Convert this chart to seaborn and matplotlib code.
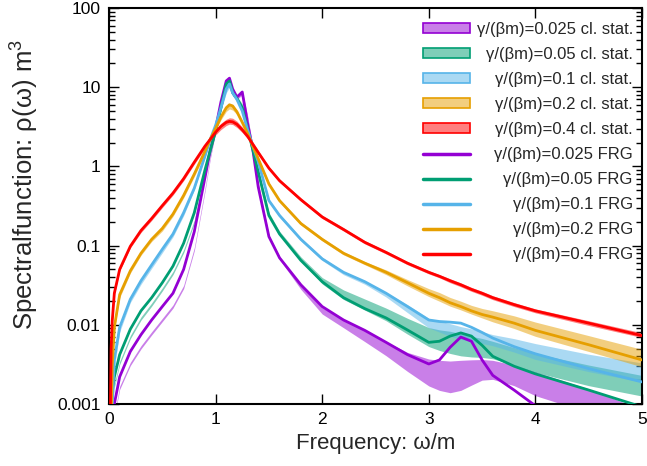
import numpy as np
import pandas as pd
import seaborn as sns
import matplotlib
matplotlib.use("Agg")
import matplotlib.pyplot as plt
from matplotlib.patches import Patch
from matplotlib.lines import Line2D
from matplotlib.ticker import LogLocator, FuncFormatter, NullFormatter, FixedLocator

# ---------------- data ----------------
omega = [0.01, 0.02, 0.03, 0.05, 0.1, 0.2, 0.3, 0.4, 0.5, 0.6, 0.7, 0.8, 0.9, 0.95,
         1.0, 1.05, 1.1, 1.13, 1.16, 1.2, 1.25, 1.3, 1.35, 1.4, 1.5, 1.6, 1.8, 2.0,
         2.2, 2.4, 2.6, 2.8, 3.0, 3.1, 3.2, 3.3, 3.4, 3.5, 3.6, 3.8, 4.0, 4.5, 5.0]

gammas = ["0.025", "0.05", "0.1", "0.2", "0.4"]

frg_0025 = [0.0002, 0.0004, 0.0006, 0.001, 0.0022, 0.0046, 0.0075, 0.0115, 0.017, 0.025, 0.05, 0.15, 0.72, 1.6,
            3.0, 6.5, 12.0, 13.0, 9.5, 7.5, 8.7, 3.5, 1.6, 0.55, 0.13, 0.07, 0.032, 0.017,
            0.0115, 0.0085, 0.006, 0.0042, 0.0032, 0.0036, 0.0052, 0.0070, 0.0062, 0.0036, 0.0023, 0.0015, 0.00095, 0.0005, 0.0003]
frg_005 = [0.0004, 0.0009, 0.0014, 0.0022, 0.0042, 0.0088, 0.015, 0.022, 0.034, 0.055, 0.107, 0.26, 0.9, 1.6,
           2.8, 5.5, 11.0, 12.0, 8.5, 7.2, 5.5, 3.0, 1.6, 0.85, 0.24, 0.14, 0.065, 0.035,
           0.022, 0.016, 0.0122, 0.0086, 0.006, 0.0062, 0.0072, 0.0079, 0.0072, 0.0055, 0.004, 0.003, 0.0024, 0.0015, 0.00092]
frg_01 = [0.0003, 0.0006, 0.001, 0.0036, 0.0093, 0.021, 0.036, 0.057, 0.09, 0.14, 0.26, 0.53, 1.35, 2.2,
          3.3, 5.5, 9.5, 11.0, 8.5, 7.0, 5.0, 2.9, 1.8, 1.15, 0.37, 0.24, 0.12, 0.068,
          0.046, 0.035, 0.025, 0.017, 0.0115, 0.011, 0.0108, 0.0105, 0.0093, 0.008, 0.0068, 0.0053, 0.0043, 0.0028, 0.0019]
frg_02 = [0.0003, 0.0004, 0.003, 0.0093, 0.024, 0.048, 0.08, 0.12, 0.165, 0.25, 0.43, 0.8, 1.55, 2.2,
          3.0, 4.2, 5.5, 6.0, 5.8, 4.9, 3.6, 2.6, 1.8, 1.25, 0.6, 0.37, 0.19, 0.12,
          0.08, 0.06, 0.046, 0.034, 0.025, 0.022, 0.019, 0.017, 0.015, 0.0135, 0.0125, 0.0105, 0.0085, 0.0056, 0.0036]
frg_04 = [0.0004, 0.005, 0.011, 0.025, 0.05, 0.098, 0.155, 0.22, 0.32, 0.46, 0.7, 1.13, 1.8, 2.2,
          2.7, 3.2, 3.6, 3.7, 3.65, 3.4, 2.9, 2.4, 1.9, 1.5, 0.95, 0.66, 0.38, 0.23,
          0.16, 0.11, 0.082, 0.06, 0.046, 0.041, 0.036, 0.032, 0.028, 0.025, 0.022, 0.018, 0.015, 0.0105, 0.0073]

# classical-statistical simulations: central value and half width (decades)
cs_0025 = [0.0001, 0.0002, 0.0004, 0.0007, 0.0016, 0.0032, 0.0052, 0.0078, 0.0115, 0.017, 0.03, 0.09, 0.5, 1.3,
           2.8, 6.0, 11.5, 12.5, 9.0, 7.4, 8.5, 4.2, 1.7, 0.6, 0.13, 0.07, 0.03, 0.015,
           0.0103, 0.0072, 0.005, 0.0034, 0.0025, 0.0023, 0.0022, 0.0023, 0.0025, 0.0027, 0.0027, 0.0023, 0.0018, 0.0011, 0.0006]
hw_0025 = [0.02, 0.02, 0.02, 0.02, 0.02, 0.02, 0.02, 0.02, 0.02, 0.02, 0.02, 0.02, 0.02, 0.02,
           0.02, 0.02, 0.025, 0.025, 0.025, 0.025, 0.025, 0.02, 0.02, 0.02, 0.02, 0.02, 0.03, 0.04,
           0.05, 0.07, 0.09, 0.12, 0.17, 0.19, 0.2, 0.19, 0.16, 0.13, 0.12, 0.13, 0.15, 0.15, 0.15]
cs_005 = [0.0002, 0.0006, 0.001, 0.0017, 0.0033, 0.007, 0.012, 0.018, 0.028, 0.045, 0.085, 0.2, 0.8, 1.5,
          2.7, 5.3, 10.5, 11.5, 8.3, 7.3, 5.8, 3.2, 1.7, 0.9, 0.25, 0.145, 0.068, 0.036,
          0.024, 0.018, 0.0135, 0.0096, 0.007, 0.0064, 0.006, 0.0056, 0.0053, 0.0051, 0.0048, 0.004, 0.0033, 0.0023, 0.0017]
hw_005 = [0.02, 0.02, 0.02, 0.02, 0.02, 0.02, 0.02, 0.02, 0.02, 0.02, 0.02, 0.02, 0.02, 0.02,
          0.02, 0.02, 0.025, 0.025, 0.025, 0.025, 0.025, 0.02, 0.02, 0.02, 0.02, 0.02, 0.025, 0.04,
          0.06, 0.07, 0.08, 0.1, 0.12, 0.13, 0.14, 0.14, 0.13, 0.12, 0.11, 0.11, 0.12, 0.13, 0.13]
cs_01 = [0.0002, 0.0005, 0.0009, 0.003, 0.0085, 0.02, 0.034, 0.054, 0.085, 0.135, 0.25, 0.53, 1.35, 2.2,
         3.3, 5.3, 9.0, 10.5, 8.2, 7.2, 5.3, 3.0, 1.8, 1.15, 0.37, 0.24, 0.12, 0.068,
         0.045, 0.034, 0.024, 0.016, 0.0105, 0.0095, 0.0086, 0.0079, 0.0074, 0.0069, 0.0064, 0.0055, 0.0046, 0.0033, 0.0025]
hw_01 = [0.02, 0.02, 0.02, 0.02, 0.02, 0.02, 0.02, 0.02, 0.02, 0.02, 0.02, 0.02, 0.02, 0.02,
         0.02, 0.02, 0.025, 0.025, 0.025, 0.025, 0.025, 0.02, 0.02, 0.02, 0.02, 0.02, 0.02, 0.02,
         0.02, 0.02, 0.03, 0.05, 0.06, 0.07, 0.08, 0.08, 0.08, 0.075, 0.07, 0.085, 0.1, 0.11, 0.12]
cs_02 = [0.0002, 0.0006, 0.0028, 0.009, 0.023, 0.047, 0.079, 0.118, 0.16, 0.245, 0.42, 0.78, 1.5, 2.2,
         3.0, 4.1, 5.3, 5.7, 5.5, 4.8, 3.6, 2.6, 1.8, 1.25, 0.6, 0.37, 0.19, 0.12,
         0.08, 0.06, 0.046, 0.034, 0.0255, 0.0225, 0.0195, 0.0175, 0.0155, 0.014, 0.0128, 0.0108, 0.0088, 0.0058, 0.0038]
hw_02 = [0.02, 0.02, 0.02, 0.02, 0.02, 0.02, 0.02, 0.02, 0.02, 0.02, 0.02, 0.02, 0.02, 0.02,
         0.02, 0.025, 0.03, 0.03, 0.03, 0.025, 0.02, 0.02, 0.02, 0.02, 0.02, 0.02, 0.02, 0.02,
         0.02, 0.02, 0.03, 0.04, 0.05, 0.055, 0.055, 0.055, 0.055, 0.06, 0.07, 0.08, 0.09, 0.1, 0.11]
cs_04 = [0.0004, 0.005, 0.011, 0.025, 0.05, 0.098, 0.155, 0.22, 0.32, 0.46, 0.7, 1.13, 1.8, 2.2,
         2.7, 3.2, 3.6, 3.75, 3.7, 3.4, 2.9, 2.4, 1.9, 1.5, 0.95, 0.66, 0.38, 0.23,
         0.16, 0.11, 0.082, 0.06, 0.046, 0.041, 0.036, 0.032, 0.028, 0.025, 0.022, 0.018, 0.015, 0.0105, 0.0074]
hw_04 = [0.02, 0.02, 0.02, 0.02, 0.02, 0.02, 0.025, 0.025, 0.025, 0.025, 0.025, 0.025, 0.03, 0.03,
         0.035, 0.04, 0.04, 0.04, 0.04, 0.04, 0.035, 0.03, 0.025, 0.025, 0.02, 0.02, 0.02, 0.02,
         0.02, 0.02, 0.02, 0.02, 0.02, 0.02, 0.025, 0.025, 0.025, 0.025, 0.025, 0.025, 0.025, 0.03, 0.03]

colors = ["#9400d3", "#009e73", "#56b4e9", "#e69f00", "#ff0000"]
frg_all = [frg_0025, frg_005, frg_01, frg_02, frg_04]
cs_all = [cs_0025, cs_005, cs_01, cs_02, cs_04]
hw_all = [hw_0025, hw_005, hw_01, hw_02, hw_04]

# ---------------- style ----------------
sns.set_theme(style="ticks")
plt.rcParams['font.family'] = ['Liberation Sans', 'DejaVu Sans']
plt.rcParams['mathtext.fontset'] = 'custom'
plt.rcParams['mathtext.rm'] = 'Liberation Sans'
plt.rcParams['mathtext.it'] = 'Liberation Sans:italic'

W, H = 647, 466
fig = plt.figure(figsize=(W / 100, H / 100), dpi=100)
ax = fig.add_axes([109 / W, 1 - 404 / H, (642 - 109) / W, (404 - 8) / H])

# bands (cl. stat.)
for c, cs, hw in zip(colors, cs_all, hw_all):
    cs = np.array(cs)
    hw = np.array(hw)
    ax.fill_between(omega, cs * 10 ** (-hw), cs * 10 ** hw, color=c, alpha=0.5, lw=0, zorder=2)

# FRG lines
df = pd.concat([pd.DataFrame({"omega": omega, "rho": v, "gamma": g})
                for g, v in zip(gammas, frg_all)], ignore_index=True)
sns.lineplot(data=df, x="omega", y="rho", hue="gamma", palette=dict(zip(gammas, colors)),
             linewidth=2.0, legend=False, ax=ax, zorder=3, sort=False)

ax.set_yscale("log")
ax.set_xlim(0, 5)
ax.set_ylim(1e-3, 100)
ax.xaxis.set_major_locator(FixedLocator([0, 1, 2, 3, 4, 5]))
ax.yaxis.set_major_locator(LogLocator(base=10))
ax.yaxis.set_minor_locator(LogLocator(base=10, subs=np.arange(2, 10)))
ax.yaxis.set_minor_formatter(NullFormatter())
ax.yaxis.set_major_formatter(FuncFormatter(lambda v, _: f"{v:g}"))
ax.tick_params(which="both", direction="in", top=True, right=True, colors="black",
               labelsize=12.5, width=1.0)
ax.tick_params(which="major", length=7, pad=6)
ax.tick_params(which="minor", length=4)
for s in ax.spines.values():
    s.set_linewidth(1.5)
    s.set_color("black")

ax.set_xlabel("Frequency: ω/m", fontsize=16, labelpad=4)
ax.set_ylabel("Spectralfunction: ρ(ω) m$^3$", fontsize=18.5)
ax.yaxis.set_label_coords(-0.128, 0.555)

# legend
handles, labels = [], []
for g, c in zip(gammas, colors):
    handles.append(Patch(facecolor=matplotlib.colors.to_rgba(c, 0.5), edgecolor=c, linewidth=1.2))
    labels.append(f"γ/(βm)={g} cl. stat.")
for g, c in zip(gammas, colors):
    handles.append(Line2D([], [], color=c, lw=2.5))
    labels.append(f"γ/(βm)={g} FRG")
leg = ax.legend(handles, labels, loc="upper right", bbox_to_anchor=(1 + 5 / 533, 1),
                frameon=False, fontsize=12,
                handlelength=2.8, handleheight=0.5, labelspacing=0.6, handletextpad=0.4,
                borderaxespad=0.45)
fig.canvas.draw()
r = fig.canvas.get_renderer()
widths = [t.get_window_extent(r).width for t in leg.get_texts()]
wmax = max(widths)
for t, w in zip(leg.get_texts(), widths):
    t.set_position((wmax - w, 0))

fig.savefig("out.png", dpi=100)
